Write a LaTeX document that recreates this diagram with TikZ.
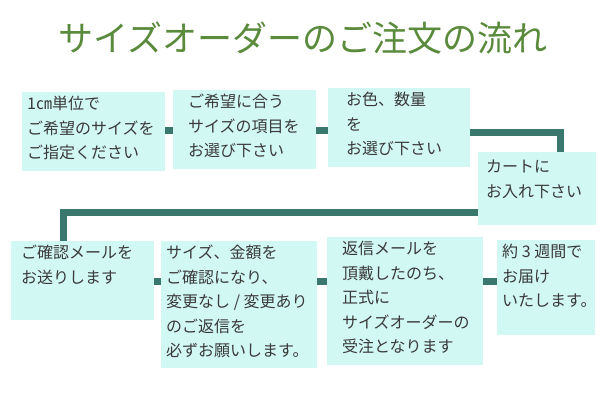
\documentclass[tikz,border=0pt]{standalone}
\usepackage{fontspec}
\setmainfont{Noto Sans CJK JP}
\definecolor{boxc}{HTML}{D2F8F4}
\definecolor{linec}{HTML}{3A786E}
\definecolor{titlec}{HTML}{5A8A3C}
\definecolor{txtc}{HTML}{3A3A3A}
\begin{document}
\begin{tikzpicture}[x=1pt,y=-1pt,
 box/.style={fill=boxc,draw=none,anchor=north west,inner sep=0pt},
 txt/.style={anchor=north west,align=left,text=txtc,inner sep=0pt,font=\fontsize{16}{24.5}\selectfont},
 conn/.style={draw=linec,line width=7pt}]
\useasboundingbox (0,0) rectangle (600,400);
\node[text=titlec,font=\fontsize{35}{38}\selectfont] (title) at (303,38) {サイズオーダーのご注文の流れ};
\newcommand\bx[6]{\node[box,minimum width=#4,minimum height=#5] (#1) at (#2,#3) {};
 \node[txt] (#1t) at ([xshift=5pt,yshift=-4pt]#1.north west) {#6};}
\bx{b1}{22}{92}{143}{79}{1㎝単位で\\ご希望のサイズを\\ご指定ください}
\bx{b2}{173}{90}{143}{79}{\hspace*{10pt}ご希望に合う\\\hspace*{10pt}サイズの項目を\\\hspace*{10pt}お選び下さい}
\bx{b3}{328}{88}{142}{79}{\hspace*{13pt}お色、数量\\\hspace*{13pt}を\\\hspace*{13pt}お選び下さい}
\bx{b4}{478}{152}{118}{73}{\\[-8pt]\hspace*{3pt}カートに\\\hspace*{3pt}お入れ下さい}
\bx{b5}{11}{241}{143}{79}{\hspace*{5pt}ご確認メールを\\\hspace*{5pt}お送りします}
\bx{b6}{161}{241}{156}{127}{サイズ、金額を\\ご確認になり、\\変更なし / 変更あり\\のご返信を\\必ずお願いします。}
\bx{b7}{327}{237}{156}{128}{\hspace*{10pt}返信メールを\\\hspace*{10pt}頂戴したのち、\\\hspace*{10pt}正式に\\\hspace*{10pt}サイズオーダーの\\\hspace*{10pt}受注となります}
\bx{b8}{497}{240}{98}{95}{約 3 週間で\\お届け\\いたします。}
\coordinate (r1) at (0,130);
\coordinate (r2) at (0,281);
\draw[conn] (b1.east |- r1) -- (b2.west |- r1);
\draw[conn] (b2.east |- r1) -- (b3.west |- r1);
\draw[conn] (b3.east |- 0,132) -| ([xshift=23pt]b4.north);
\draw[conn] (b4.west |- 0,212) -| ([xshift=-19pt]b5.north);
\draw[conn] (b5.east |- r2) -- (b6.west |- r2);
\draw[conn] (b6.east |- r2) -- (b7.west |- r2);
\draw[conn] (b7.east |- r2) -- (b8.west |- r2);
\end{tikzpicture}
\end{document}
